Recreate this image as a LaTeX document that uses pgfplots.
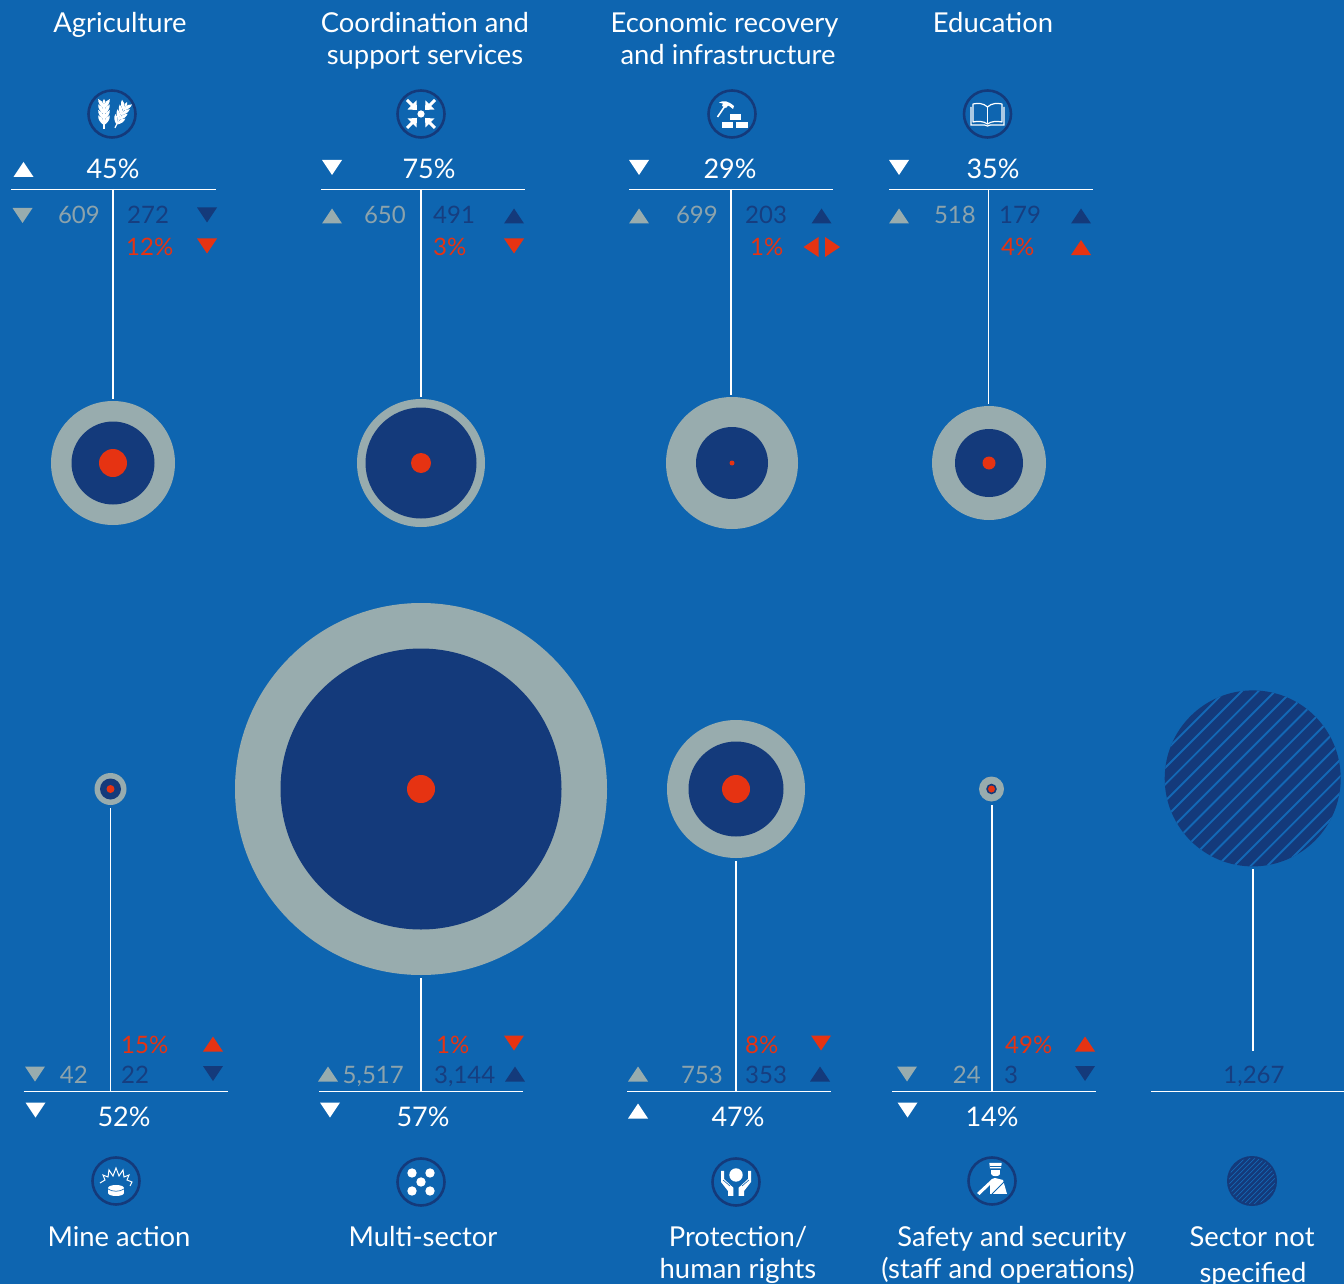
\documentclass[border=0pt]{standalone}
\usepackage{pgfplots}
\pgfplotsset{compat=1.18}
\usepackage{pgfplotstable}
\usepackage{fontspec}
\setmainfont{Lato}
\definecolor{bg}{RGB}{14,101,176}
\definecolor{stripe}{RGB}{19,104,181}
\definecolor{navy}{RGB}{20,58,123}
\definecolor{grey}{RGB}{152,172,174}
\definecolor{greytxt}{RGB}{140,163,172}
\definecolor{navytxt}{RGB}{22,62,128}
\definecolor{redc}{RGB}{230,51,18}

\pgfdeclareplotmark{fdisc}{\pgfpathcircle{\pgfpointorigin}{\pgfplotmarksize}\pgfusepathqfill}
\pgfdeclareplotmark{tup}{\pgfpathmoveto{\pgfqpoint{-10pt}{-7.5pt}}\pgfpathlineto{\pgfqpoint{10pt}{-7.5pt}}\pgfpathlineto{\pgfqpoint{0pt}{7.5pt}}\pgfpathclose\pgfusepathqfill}
\pgfdeclareplotmark{tdown}{\pgfpathmoveto{\pgfqpoint{-10pt}{7.5pt}}\pgfpathlineto{\pgfqpoint{10pt}{7.5pt}}\pgfpathlineto{\pgfqpoint{0pt}{-7.5pt}}\pgfpathclose\pgfusepathqfill}
\pgfdeclareplotmark{tleft}{\pgfpathmoveto{\pgfqpoint{7.5pt}{10pt}}\pgfpathlineto{\pgfqpoint{7.5pt}{-10pt}}\pgfpathlineto{\pgfqpoint{-7.5pt}{0pt}}\pgfpathclose\pgfusepathqfill}
\pgfdeclareplotmark{tright}{\pgfpathmoveto{\pgfqpoint{-7.5pt}{10pt}}\pgfpathlineto{\pgfqpoint{-7.5pt}{-10pt}}\pgfpathlineto{\pgfqpoint{7.5pt}{0pt}}\pgfpathclose\pgfusepathqfill}
\pgfdeclareplotmark{hatchdisc}{%
  \pgfsetfillcolor{navy}\pgfpathcircle{\pgfpointorigin}{88pt}\pgfusepathqfill
  \begin{pgfscope}
  \pgfpathcircle{\pgfpointorigin}{88pt}\pgfusepathqclip
  \pgfsetstrokecolor{stripe}\pgfsetlinewidth{1.9pt}
  \foreach \k in {-7,...,7}{%
    \pgfpathmoveto{\pgfpoint{-100pt}{\k*16.7pt-100pt-2pt}}%
    \pgfpathlineto{\pgfpoint{100pt}{\k*16.7pt+100pt-2pt}}%
    \pgfusepathqstroke}%
  \end{pgfscope}}
\pgfdeclareplotmark{hatchsmall}{%
  \pgfsetfillcolor{navy}\pgfpathcircle{\pgfpointorigin}{25pt}\pgfusepathqfill
  \begin{pgfscope}
  \pgfpathcircle{\pgfpointorigin}{23pt}\pgfusepathqclip
  \pgfsetstrokecolor{stripe}\pgfsetlinewidth{0.7pt}
  \foreach \k in {-9,...,9}{%
    \pgfpathmoveto{\pgfpoint{-30pt}{\k*5pt-30pt}}%
    \pgfpathlineto{\pgfpoint{30pt}{\k*5pt+30pt}}%
    \pgfusepathqstroke}%
  \end{pgfscope}}

% x y r
\pgfplotstableread{
x y r
113 463 62
421 463 64
732 463 66
989 463 57
110.5 789 16
421 789 186
736 789 69
991.5 789 12.5
}\outerT
\pgfplotstableread{
x y r
113 463 41.5
421 463 55.5
732 463 36
989 463 34
110.5 789 10.5
421 789 140.5
736 789 47.5
991.5 789 5.3
}\midT
\pgfplotstableread{
x y r
113 463 14
421 463 10
732 463 2.5
989 463 6.5
110.5 789 4
421 789 14
736 789 14
991.5 789 3.5
}\redT

\pgfplotsset{
  disc/.style={only marks, scatter, mark=fdisc, point meta=\thisrow{r},
    visualization depends on={\thisrow{r}\as\rr},
    scatter/use mapped color={fill=#1, /tikz/mark size=\rr}},
  tri/.style 2 args={only marks, mark=#1, color=#2, forget plot},
  rule/.style={white, line width=1.2pt, forget plot, mark=none},
}
\newcommand\Tx[5]{\node[anchor=#1, inner sep=0pt, text=#2, font=\fontsize{#3}{#3}\selectfont] at (axis cs:#4) {#5};}
\newcommand\Bx[2]{\Tx{base}{white}{27.4}{#1}{#2}}
\newcommand\PC[2]{\Tx{base}{white}{27}{#1}{#2}}
\newcommand\GN[2]{\Tx{base east}{greytxt}{24}{#1}{#2}}
\newcommand\NN[2]{\Tx{base west}{navytxt}{24}{#1}{#2}}
\newcommand\RN[2]{\Tx{base west}{redc}{24}{#1}{#2}}

\newcommand\icon[3]{\begin{scope}[shift={(#1pt,{1284pt-#2pt})},x=1pt,y=-1pt]
  \draw[navy,line width=2.6pt] (0,0) circle[radius=23.5pt];
  #3
\end{scope}}
\newcommand\ear{%
  \foreach \yy in {-9,-3.5,2,7.5}{
    \fill[white] (0.3,\yy+1)..controls (1,\yy-3) and (3,\yy-5)..(5.8,\yy-6)..controls (6,\yy-2) and (4,\yy+1)..(0.3,\yy+3.5)--cycle;
    \fill[white] (-0.3,\yy+1)..controls (-1,\yy-3) and (-3,\yy-5)..(-5.8,\yy-6)..controls (-6,\yy-2) and (-4,\yy+1)..(-0.3,\yy+3.5)--cycle;
  }
  \fill[white] (0,-15)..controls (-2,-13) and (-2,-11)..(0,-9)..controls (2,-11) and (2,-13)..(0,-15)--cycle;
  \draw[white,line width=1.2pt] (0,-10)--(0,15);}

\begin{document}
\begin{tikzpicture}[x=1pt,y=1pt]
\path[use as bounding box] (0,0) rectangle (1344pt,1284pt);
\clip (0,0) rectangle (1344pt,1284pt);
\fill[bg] (0,0) rectangle (1344pt,1284pt);
\begin{axis}[at={(0,0)},anchor=south west,scale only axis,width=1344pt,height=1284pt,
  xmin=0,xmax=1344,ymin=0,ymax=1284,y dir=reverse,hide axis,clip=false]
% leader lines
\addplot[rule] coordinates {(11,189.3)(216,189.3)};
\addplot[rule] coordinates {(321,189.3)(525,189.3)};
\addplot[rule] coordinates {(629,189.3)(833,189.3)};
\addplot[rule] coordinates {(889,189.3)(1093,189.3)};
\addplot[rule] coordinates {(113,189)(113,399)};
\addplot[rule] coordinates {(421,189)(421,397)};
\addplot[rule] coordinates {(731,189)(731,395)};
\addplot[rule] coordinates {(988.5,189)(988.5,404)};
\addplot[rule] coordinates {(23.5,1091.3)(228,1091.3)};
\addplot[rule] coordinates {(319,1091.3)(523,1091.3)};
\addplot[rule] coordinates {(627,1091.3)(831,1091.3)};
\addplot[rule] coordinates {(892,1091.3)(1096,1091.3)};
\addplot[rule] coordinates {(1151,1091.3)(1344,1091.3)};
\addplot[rule] coordinates {(110.5,808)(110.5,1091)};
\addplot[rule] coordinates {(421,978)(421,1091)};
\addplot[rule] coordinates {(736,861)(736,1091)};
\addplot[rule] coordinates {(992,805)(992,1091)};
\addplot[rule] coordinates {(1253,869)(1253,1051)};
% concentric discs
\addplot[disc=grey] table {\outerT};
\addplot[disc=navy] table {\midT};
\addplot[disc=redc] table {\redT};
\addplot[only marks,mark=hatchdisc,forget plot] coordinates {(1252.7,778.4)};
\addplot[only marks,mark=hatchsmall,forget plot] coordinates {(1252,1181)};
% triangles
\addplot[tri={tup}{white}] coordinates {(23.5,169.5)(638,1111)};
\addplot[tri={tdown}{white}] coordinates {(332,167.5)(639,167.5)(899,167.5)(35.5,1110)(330,1110)(907.5,1110)};
\addplot[tri={tdown}{grey}] coordinates {(22.5,215.5)(35,1074)(907,1074)};
\addplot[tri={tup}{grey}] coordinates {(332,216)(639,216)(899,216)(328,1074)(638,1074)};
\addplot[tri={tdown}{navy}] coordinates {(207,215)(213,1073.5)(1085,1073.5)};
\addplot[tri={tup}{navy}] coordinates {(514,216)(821.5,216)(1081,216)(515,1074)(820,1074)};
\addplot[tri={tdown}{redc}] coordinates {(207,246)(514,246)(514,1043)(821,1043)};
\addplot[tri={tup}{redc}] coordinates {(1081,247.5)(213,1044)(1085,1044)};
\addplot[tri={tleft}{redc}] coordinates {(811,247)};
\addplot[tri={tright}{redc}] coordinates {(832.5,247)};
% headings
\Bx{120,33}{Agriculture}
\Bx{425,33}{Coordination and}
\Bx{425,65}{support services}
\Bx{724.5,33}{Economic recovery}
\Bx{728,65}{and infrastructure}
\Bx{993,33}{Education}
\Bx{119,1246}{Mine action}
\Bx{423,1246}{Multi-sector}
\Bx{738,1246}{Protection/}
\Bx{738,1278}{human rights}
\Bx{1012,1246}{Safety and security}
\Bx{1008,1278}{(staff and operations)}
\Bx{1252,1246}{Sector not}
\Bx{1253,1282}{specified}
% percentages
\PC{113,178.5}{45\%}
\PC{429,178.5}{75\%}
\PC{730,178.5}{29\%}
\PC{993,178.5}{35\%}
\PC{124,1126.5}{52\%}
\PC{423,1126.5}{57\%}
\PC{738,1126.5}{47\%}
\PC{992,1126.5}{14\%}
% values
\GN{100,224}{609}\NN{127,224}{272}\RN{126,255}{12\%}
\GN{406,224}{650}\NN{433,224}{491}\RN{433,255}{3\%}
\GN{718,224}{699}\NN{745,224}{203}\RN{750,255}{1\%}
\GN{976,224}{518}\NN{999,224}{179}\RN{1001,255}{4\%}
\GN{88,1083}{42}\NN{121,1083}{22}\RN{121,1053}{15\%}
\GN{404,1083}{5,517}\NN{434,1083}{3,144}\RN{436,1053}{1\%}
\GN{723,1083}{753}\NN{745,1083}{353}\RN{745,1053}{8\%}
\GN{981,1083}{24}\NN{1004,1083}{3}\RN{1005,1053}{49\%}
\Tx{base}{navytxt}{24}{1254,1083}{1,267}
\end{axis}
% icons
\icon{112}{114}{%
  \begin{scope}[shift={(-8,0)}]\ear\end{scope}
  \begin{scope}[shift={(9,1)},rotate=-25,scale=.95]\ear\end{scope}}
\icon{421}{114}{%
  \fill[white] (0,0) circle[radius=3.6pt];
  \foreach \a in {0,90,180,270}{
    \begin{scope}[rotate=\a]
    \fill[white] (-4,-4)--(-13.5,-4.5)--(-4.5,-13.5)--cycle;
    \draw[white,line width=3pt] (-8,-8)--(-14,-14);
    \end{scope}}}
\icon{732}{114}{%
  \draw[white,line width=1.6pt] (-14.5,3)--(-7,-8);
  \fill[white] (-13,-11.5)..controls (-8,-14) and (-4,-13)..(2,-8)--(1,-5)..controls (-3,-9) and (-8,-10)..(-13,-11.5)--cycle;
  \fill[white] (-9,-11)--(-3,-9.5)--(-6,-6)--(-10,-8)--cycle;
  \fill[white] (-2,0) rectangle (9,6);
  \fill[white] (-10,8.5) rectangle (1,14);
  \fill[white] (4,8.5) rectangle (16,14);}
\icon{987.5}{114}{%
  \draw[white,line width=1.2pt,line join=round] (0,-7)..controls (-4,-11) and (-10,-11)..(-14.5,-10)--(-14.5,8)..controls (-10,7) and (-4,7)..(0,10)..controls (4,7) and (10,7)..(14.5,8)--(14.5,-10)..controls (10,-11) and (4,-11)..(0,-7)--cycle;
  \draw[white,line width=1.2pt] (0,-7)--(0,10);
  \draw[white,line width=1.2pt] (-16.5,-7)--(-16.5,11)--(-3,11)--(0,12)--(3,11)--(16.5,11)--(16.5,-7);}
\icon{116}{1181}{%
  \draw[white,line width=1pt,line join=miter] (-16,2)--(-11,-1)--(-13,-6)--(-8,-4)--(-7,-11)--(-3,-5)--(0,-13)--(3,-5)--(7,-11)--(8,-4)--(13,-6)--(11,-1)--(16,1)--(14,5);
  \fill[white] (-8,8) rectangle (8,12);
  \fill[white] (0,12) ellipse[x radius=8pt,y radius=3pt];
  \fill[white] (0,7) ellipse[x radius=8pt,y radius=3pt];
  \draw[bg,line width=.6pt] (-8,8)..controls (-4,11) and (4,11)..(8,8);}
\icon{421}{1182}{%
  \foreach \p in {(0,0),(-9,-9),(9,-9),(-9,9),(9,9)}{\fill[white] \p circle[radius=4.7pt];}}
\icon{736}{1182}{%
  \fill[white] (0,-7) circle[radius=6.7pt];
  \foreach \s in {1,-1}{
    \begin{scope}[xscale=\s]
    \fill[white] (15,-11)--(12,-11)--(12,-3)--(2.7,5.7)--(2.7,14)--(8,14)--(8,9)--(15,0)--cycle;
    \draw[bg,line width=.6pt] (13,-2)--(6,4);
    \end{scope}}}
\icon{992}{1181}{%
  \fill[white] (-2.7,-18)--(9.7,-18)--(9,-12.5)--(-2,-12.5)--cycle;
  \draw[bg,line width=.8pt] (-2.5,-14.5)--(9.7,-14.5);
  \fill[white] (-1,-11) rectangle (8,-7);
  \fill[white] (-1,-7)..controls (0,-4) and (7,-4)..(8,-7)--cycle;
  \fill[white] (-15,12)--(-12.5,14)--(-2,4)--(-2,13)--(15,13)--(11,-1)--(3,-3)--(0,-2)--cycle;
  \draw[bg,line width=1pt] (0,13)--(13,0);}
\end{tikzpicture}
\end{document}
